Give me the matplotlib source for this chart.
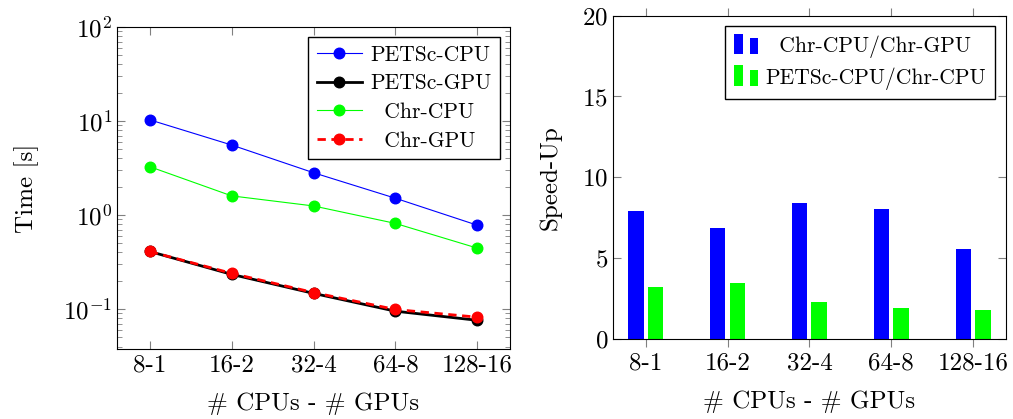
import matplotlib
matplotlib.use("Agg")
import matplotlib.pyplot as plt
import numpy as np
from matplotlib.legend_handler import HandlerBase
from matplotlib.patches import Rectangle, Patch

plt.rcParams['font.family'] = 'serif'
plt.rcParams['font.serif'] = ['cmr10']
plt.rcParams['mathtext.fontset'] = 'cm'
plt.rcParams['axes.formatter.use_mathtext'] = True

configs = ["8-1", "16-2", "32-4", "64-8", "128-16"]

# timings [s]
petsc_cpu = [10.3, 5.56, 2.82, 1.51, 0.78]
petsc_gpu = [0.41, 0.234, 0.147, 0.095, 0.076]
chr_cpu = [3.27, 1.60, 1.25, 0.815, 0.445]
chr_gpu = [0.41, 0.24, 0.15, 0.099, 0.082]

# speed-ups
chr_cpu_over_gpu = [7.9, 6.85, 8.39, 8.04, 5.55]
petsc_over_chr_cpu = [3.2, 3.46, 2.29, 1.9, 1.79]

fs = 18
lfs = 15.5
ms = 7.6
tick_gray = (0.5, 0.5, 0.5)


class TwoBars(HandlerBase):
    def create_artists(self, legend, orig_handle, xdescent, ydescent,
                       width, height, fontsize, trans):
        c = orig_handle.get_facecolor()
        w = width * 0.34
        r1 = Rectangle((-xdescent, -ydescent - 0.15 * height), w, height * 1.35,
                       facecolor=c, edgecolor='none', transform=trans)
        r2 = Rectangle((-xdescent + width * 0.62, -ydescent - 0.15 * height), w, height * 1.05,
                       facecolor=c, edgecolor='none', transform=trans)
        return [r1, r2]


fig = plt.figure(figsize=(10.13, 4.19), dpi=100)
ax1 = fig.add_axes([0.1155, 0.167, 0.388, 0.7685])
ax2 = fig.add_axes([0.605, 0.191, 0.388, 0.7716])

x = np.arange(len(configs))

# left: timings
ax1.plot(x, petsc_cpu, color='blue', lw=0.8, marker='o', ms=ms, label='PETSc-CPU')
ax1.plot(x, petsc_gpu, color='black', lw=2.0, marker='o', ms=ms, label='PETSc-GPU')
ax1.plot(x, chr_cpu, color=(0, 1, 0), lw=0.8, marker='o', ms=ms, label='  Chr-CPU')
ax1.plot(x, chr_gpu, color='red', lw=2.0, ls=(0, (3, 2)), marker='o', ms=ms, label='  Chr-GPU')
ax1.set_yscale('log')
ax1.set_ylim(0.0376, 100)
ax1.set_xlim(-0.4, 4.4)
ax1.set_xticks(x)
ax1.set_xticklabels(configs)
ax1.set_xlabel('# CPUs - # GPUs', fontsize=fs, labelpad=12)
ax1.set_ylabel('Time [s]', fontsize=fs, labelpad=17)
ax1.tick_params(which='both', direction='in', top=True, right=True, color=tick_gray,
                labelsize=fs)
ax1.tick_params(which='major', length=6)
ax1.tick_params(which='minor', length=3.5)
ax1.tick_params(axis='x', which='minor', bottom=False, top=False)
leg1 = ax1.legend(loc='upper right', fontsize=lfs, frameon=True, fancybox=False,
                  edgecolor='black', framealpha=1, borderaxespad=0.45,
                  handlelength=2.1, handletextpad=0.4, labelspacing=0.42,
                  borderpad=0.4)
leg1.get_frame().set_linewidth(1.0)

# right: speed-up bars
w = 0.19
ax2.bar(x - 0.12, chr_cpu_over_gpu, width=w, color='blue')
ax2.bar(x + 0.12, petsc_over_chr_cpu, width=w, color=(0, 1, 0))
ax2.set_ylim(0, 20)
ax2.set_xlim(-0.4, 4.4)
ax2.set_xticks(x)
ax2.set_xticklabels(configs)
ax2.set_yticks([0, 5, 10, 15, 20])
ax2.set_xlabel('# CPUs - # GPUs', fontsize=fs, labelpad=12)
ax2.set_ylabel('Speed-Up', fontsize=fs, labelpad=15)
ax2.tick_params(axis='y', direction='in', left=True, right=True, color=tick_gray,
                labelsize=fs, length=6)
ax2.tick_params(axis='x', direction='out', bottom=True, top=True, color=tick_gray,
                labelsize=fs, length=6)
handles = [Patch(facecolor='blue'), Patch(facecolor=(0, 1, 0))]
leg2 = ax2.legend(handles, ['  Chr-CPU/Chr-GPU', 'PETSc-CPU/Chr-CPU'],
                  handler_map={Patch: TwoBars()}, loc='upper right', fontsize=lfs,
                  frameon=True, fancybox=False, edgecolor='black', framealpha=1,
                  borderaxespad=0.5, handlelength=1.15, handletextpad=0.3,
                  labelspacing=0.42, borderpad=0.42)
leg2.get_frame().set_linewidth(1.0)

fig.savefig('out.png', dpi=100)
